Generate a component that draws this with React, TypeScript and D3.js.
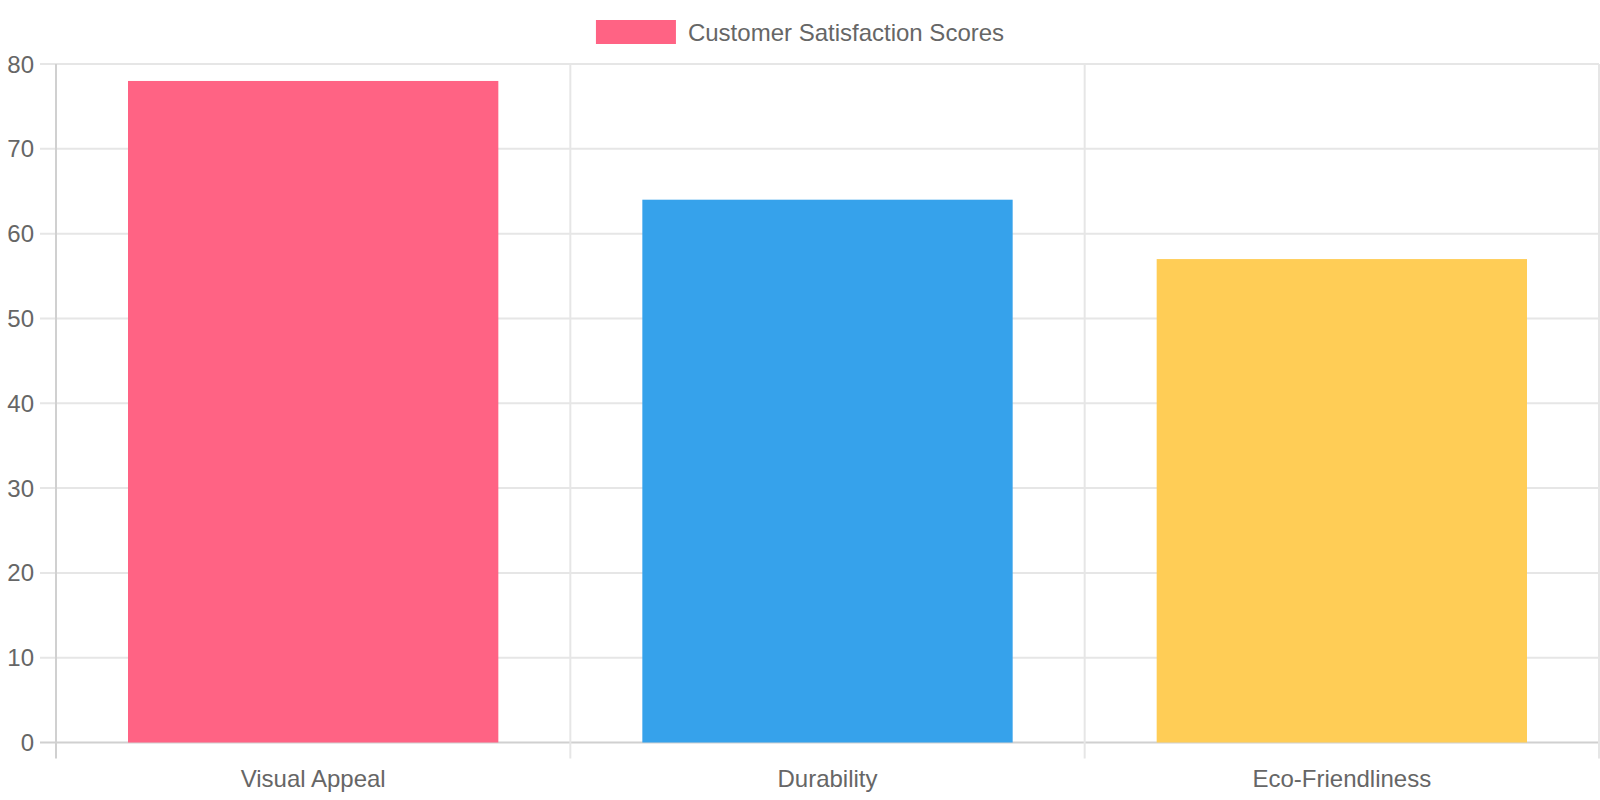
import React, { useEffect, useRef } from 'react';
import * as d3 from 'd3';

const categories = ['Visual Appeal', 'Durability', 'Eco-Friendliness'];
const scores = [78, 64, 57];
const barColors = ['#ff6384', '#36a2eb', '#ffcd56'];
const yTicks = [0, 10, 20, 30, 40, 50, 60, 70, 80];
const seriesLabel = 'Customer Satisfaction Scores';

const WIDTH = 1600;
const HEIGHT = 800;

export default function App() {
  const ref = useRef<SVGSVGElement>(null);

  useEffect(() => {
    const svg = d3.select(ref.current);
    svg.selectAll('*').remove();

    const chart = { left: 56, right: 1599, top: 64, bottom: 742.5 };
    const font = '"Liberation Sans", Helvetica, Arial, sans-serif';
    const gridColor = '#e6e6e6';
    const borderColor = '#d0d0d0';
    const tickLen = 16;

    const x = d3.scaleBand<string>().domain(categories).range([chart.left, chart.right]).paddingInner(0).paddingOuter(0);
    const y = d3.scaleLinear().domain([0, 80]).range([chart.bottom, chart.top]);

    // horizontal grid lines + left tick marks
    svg.append('g')
      .selectAll('line')
      .data(yTicks)
      .join('line')
      .attr('x1', chart.left - tickLen)
      .attr('x2', chart.right)
      .attr('y1', (d) => y(d))
      .attr('y2', (d) => y(d))
      .attr('stroke', (d) => (d === 0 ? borderColor : gridColor))
      .attr('stroke-width', 2);

    // vertical grid lines between categories (with tick marks below)
    const xLines = categories.map((c) => x(c) as number).concat([chart.right]);
    svg.append('g')
      .selectAll('line')
      .data(xLines)
      .join('line')
      .attr('x1', (d) => d)
      .attr('x2', (d) => d)
      .attr('y1', chart.top)
      .attr('y2', chart.bottom + tickLen)
      .attr('stroke', (d, i) => (i === 0 ? borderColor : gridColor))
      .attr('stroke-width', 2);

    // bars
    const barW = x.bandwidth() * 0.72;
    svg.append('g')
      .selectAll('rect')
      .data(scores)
      .join('rect')
      .attr('x', (d, i) => (x(categories[i]) as number) + (x.bandwidth() - barW) / 2)
      .attr('y', (d) => y(d))
      .attr('width', barW)
      .attr('height', (d) => y(0) - y(d))
      .attr('fill', (d, i) => barColors[i]);

    // y tick labels
    svg.append('g')
      .selectAll('text')
      .data(yTicks)
      .join('text')
      .attr('x', chart.left - tickLen - 6)
      .attr('y', (d) => y(d) + 8.5)
      .attr('text-anchor', 'end')
      .attr('font-family', font)
      .attr('font-size', 24)
      .attr('fill', '#666')
      .text((d) => d);

    // x tick labels
    svg.append('g')
      .selectAll('text')
      .data(categories)
      .join('text')
      .attr('x', (d) => (x(d) as number) + x.bandwidth() / 2)
      .attr('y', 787)
      .attr('text-anchor', 'middle')
      .attr('font-family', font)
      .attr('font-size', 24)
      .attr('fill', '#666')
      .text((d) => d);

    // legend
    const legend = svg.append('g');
    const label = legend.append('text')
      .attr('y', 40.5)
      .attr('font-family', font)
      .attr('font-size', 24)
      .attr('fill', '#666')
      .text(seriesLabel);
    const textW = (label.node() as SVGTextElement).getComputedTextLength();
    const boxW = 80;
    const total = boxW + 12 + textW;
    const lx = WIDTH / 2 - total / 2;
    legend.append('rect')
      .attr('x', lx)
      .attr('y', 20)
      .attr('width', boxW)
      .attr('height', 24)
      .attr('fill', barColors[0]);
    label.attr('x', lx + boxW + 12);
  }, []);

  return (
    <svg
      ref={ref}
      width={WIDTH}
      height={HEIGHT}
      style={{ position: 'absolute', left: 0, top: 0, background: '#fff' }}
    />
  );
}
